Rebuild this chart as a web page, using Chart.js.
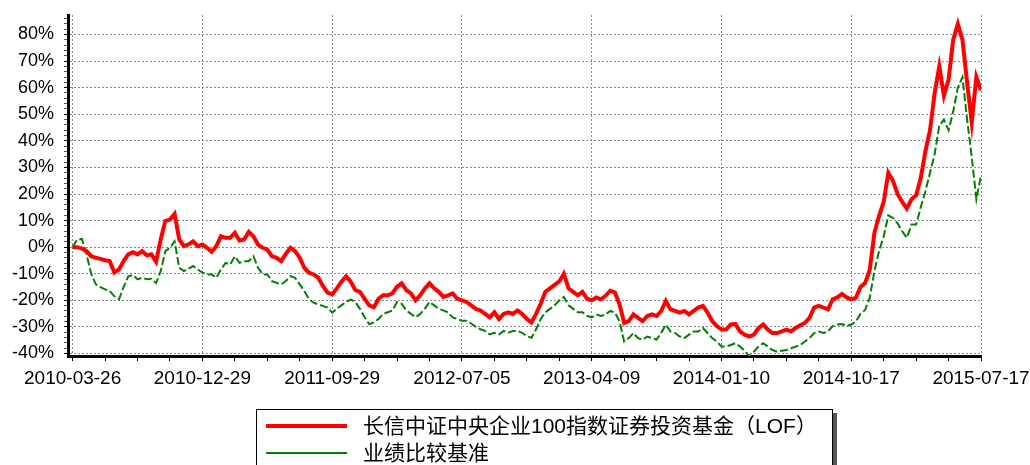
<!DOCTYPE html>
<html>
<head>
<meta charset="utf-8">
<script src="https://cdn.jsdelivr.net/npm/chart.js@4/dist/chart.umd.min.js"></script>
<style>
  html, body { margin:0; padding:0; background:#fff; overflow:hidden; }
  #wrap { position:relative; width:1030px; height:465px; overflow:hidden; }
  #legend { position:absolute; left:256px; top:409px; width:575px; height:64px; border:1px solid #000; background:#fff; box-shadow:4px 4px 0 #555; font-family:"Liberation Sans","Noto Sans CJK SC",sans-serif; font-size:21px; color:#000; }
  .row { position:absolute; left:0; height:26px; line-height:26px; white-space:nowrap; }
  .sample { position:absolute; left:9px; width:81px; }
  .txt { position:absolute; left:106px; }
</style>
</head>
<body>
<div id="wrap">
  <canvas id="c" width="1030" height="465"></canvas>
  <div id="legend"></div>
</div>
<script>
// Tick labels (one every 28 data points)
const dateLabels = ['2010-03-26','2010-12-29','2011-09-29','2012-07-05','2013-04-09','2014-01-10','2014-10-17','2015-07-17'];
const seriesNames = ['长信中证中央企业100指数证券投资基金（LOF）', '业绩比较基准'];

// Fund cumulative return (%)
const fundValues = [
  0,0,-0.5,-1.5,-3.4,-4,-4.4,-4.9,-5.2,-9.5,-8.4,-5.2,-2.7,-1.9,-2.7,-1.5,-3.1,-2.7,-5.5,2.9,9.8,10.4,12.5,2.9,0.4,1,2.2,0.4,1,
  -0.25,-1.75,0.4,4.1,3.5,3.5,5.4,2.5,2.9,5.75,4.1,1,-0.25,-0.9,-3.4,-4,-5.25,-2.5,-0.25,-1.5,-4,-7.75,-9.6,-10.25,-11.5,-14.6,-17.1,-17.75,
  -15.5,-13,-11,-13,-16.2,-16.8,-19.4,-21.9,-22.6,-19.4,-18.1,-18.1,-17.4,-14.9,-13.6,-16.2,-17.4,-20,-18.1,-15.5,-13.6,-15.5,-16.8,-18.7,-18.1,-17.4,-19.4,-20,
  -20.6,-21.9,-23.2,-23.8,-25.1,-26.4,-24.5,-27,-25.1,-24.5,-25.1,-23.8,-25.1,-27,-28.3,-25.1,-21.3,-16.8,-15.5,-14.2,-12.9,-10,-15.5,-16.8,-18.1,-16.8,-19.4,-20,
  -18.9,-19.6,-18.3,-16.4,-17,-21.5,-28.5,-27.8,-25.3,-26.6,-27.8,-25.9,-25.3,-25.9,-24,-20.2,-23.4,-24,-24.6,-24,-25.3,-24,-22.7,-22.1,-24.6,-27.8,-29.7,-31,
  -31,-29.1,-28.9,-31.7,-32.9,-33.6,-32.9,-30.4,-29.1,-31,-32.3,-32.3,-31.7,-31,-31.7,-30.4,-29.4,-28.5,-26.6,-22.7,-22.1,-22.7,-23.4,-19.6,-18.9,-17.6,-18.9,-19.6,
  -19,-15,-13.5,-8.5,5.4,11.7,17,28,25,20,17,14.5,18,19.5,26,36,44,58,68,57,63,78,84,78,62,47,64,59
];

// Benchmark cumulative return (%)
const benchValues = [
  0,2.9,3.1,-2.7,-10,-14,-15,-15.9,-16.5,-18.5,-19.6,-15,-11,-10.5,-12.1,-11.5,-12.1,-11.9,-13.5,-9,-1.5,-0.25,2.25,-7.75,-9,-8.1,-7.1,-8.4,-9.6,
  -10.25,-10.25,-11.5,-8.4,-5.9,-6.5,-3.4,-5.9,-5.25,-5.25,-3.4,-7.75,-10.25,-10.25,-12.75,-13.4,-14,-12.75,-10.9,-11.5,-14,-16.5,-19.6,-20.9,-21.5,-22.1,-22.75,-24.6,
  -23.2,-21.9,-20.6,-19.7,-20.6,-23.2,-26.4,-29,-28.3,-27,-25.1,-24.5,-23.8,-20.6,-21.3,-23.8,-25.1,-26.4,-25.1,-23.2,-20.6,-21.9,-23.2,-23.8,-24.5,-26.4,-27,-27.7,
  -27.7,-28.7,-30,-30.9,-31.5,-32.8,-32.2,-32.8,-31.5,-32.2,-31.5,-31.5,-32.2,-33.5,-34.1,-30.9,-27,-24.5,-23.2,-21.9,-20,-18.7,-21.9,-23.2,-24.5,-24.5,-25.8,-26.4,
  -25.3,-25.9,-25.3,-24,-24.6,-27.8,-35.5,-34.2,-32.3,-34.2,-34.8,-33.6,-34.2,-34.8,-32.3,-29.1,-31.7,-32.3,-33.6,-34.2,-32.9,-31.7,-31.7,-30.4,-32.3,-34.2,-35.5,-37.4,
  -37.4,-36.8,-36.1,-37.4,-39,-41,-39.3,-37.4,-36.1,-37.4,-38.7,-39.3,-39,-38.7,-38,-37.4,-36.8,-35.5,-34.2,-32.3,-31.7,-32.3,-31.7,-29.7,-29.1,-28.9,-29.7,-29.1,
  -28,-25,-23.6,-19,-9,-1.5,4,12,11,9,6,3.5,8.5,8.5,15,21,28,35,45.7,48,44,51,60,64,48,34,18,27
];

const PER_LABEL = 28;
const lastIndex = PER_LABEL * (dateLabels.length - 1);
const yTickValues = [];
for (let v = -40; v <= 86; v += 2) yTickValues.push(v);
const xTickValues = [];
for (let v = 0; v <= lastIndex; v += 7) xTickValues.push(v);

const colors = ['#ff0000', '#008000'];

const toPoints = arr => arr.map((v, i) => ({ x: i, y: v }));

new Chart(document.getElementById('c'), {
  type: 'line',
  data: {
    datasets: [
      { label: seriesNames[0], data: toPoints(fundValues), borderColor: colors[0], borderWidth: 4, pointRadius: 0, tension: 0, fill: false },
      { label: seriesNames[1], data: toPoints(benchValues), borderColor: colors[1], borderWidth: 2, borderDash: [8, 3], pointRadius: 0, tension: 0, fill: false }
    ]
  },
  options: {
    responsive: false,
    animation: false,
    devicePixelRatio: 1,
    layout: { padding: { top: 15, right: 49, bottom: 0, left: 0 } },
    plugins: { legend: { display: false }, tooltip: { enabled: false } },
    scales: {
      x: {
        type: 'linear',
        min: -1,
        max: lastIndex,
        afterBuildTicks: s => { s.ticks = xTickValues.map(v => ({ value: v })); },
        afterFit: s => { s.height = 109; s.paddingLeft = 0; s.paddingRight = 0; },
        ticks: {
          autoSkip: false, maxRotation: 0, minRotation: 0, padding: 6,
          color: '#000',
          font: { family: 'Liberation Sans, Arial, sans-serif', size: 19 },
          callback: v => (v % PER_LABEL === 0 ? dateLabels[v / PER_LABEL] : '')
        },
        grid: {
          color: c => (c.tick && c.tick.value % PER_LABEL === 0 ? '#8a8a8a' : 'rgba(0,0,0,0)'),
          tickColor: '#000',
          tickLength: 5,
          lineWidth: 1
        },
        border: { display: true, color: '#000', width: 3, dash: [2, 2] }
      },
      y: {
        type: 'linear',
        min: -40.94,
        max: 87.34,
        afterBuildTicks: s => { s.ticks = yTickValues.map(v => ({ value: v })); },
        afterFit: s => { s.width = 68; s.paddingTop = 0; s.paddingBottom = 0; },
        ticks: {
          autoSkip: false, padding: 10,
          color: '#000',
          font: { family: 'Liberation Sans, Arial, sans-serif', size: 18 },
          callback: v => (v % 10 === 0 ? v + '%' : '')
        },
        grid: {
          color: c => (c.tick && c.tick.value % 10 === 0 ? '#8a8a8a' : 'rgba(0,0,0,0)'),
          tickColor: c => (c.tick && c.tick.value % 10 === 0 ? '#000' : '#555'),
          tickLength: 4,
          lineWidth: 1
        },
        border: { display: true, color: '#000', width: 3, dash: [2, 2] }
      }
    }
  }
});

// HTML legend built from the series names/colours
const legend = document.getElementById('legend');
const rowTops = [3, 30];
const sampleWidths = [4, 2];
seriesNames.forEach((name, i) => {
  const row = document.createElement('div');
  row.className = 'row';
  row.style.top = rowTops[i] + 'px';
  row.style.width = '100%';
  const s = document.createElement('div');
  s.className = 'sample';
  s.style.top = (13 - sampleWidths[i] / 2) + 'px';
  s.style.height = sampleWidths[i] + 'px';
  s.style.background = colors[i];
  const t = document.createElement('span');
  t.className = 'txt';
  t.textContent = name;
  row.appendChild(s);
  row.appendChild(t);
  legend.appendChild(row);
});
</script>
</body>
</html>
